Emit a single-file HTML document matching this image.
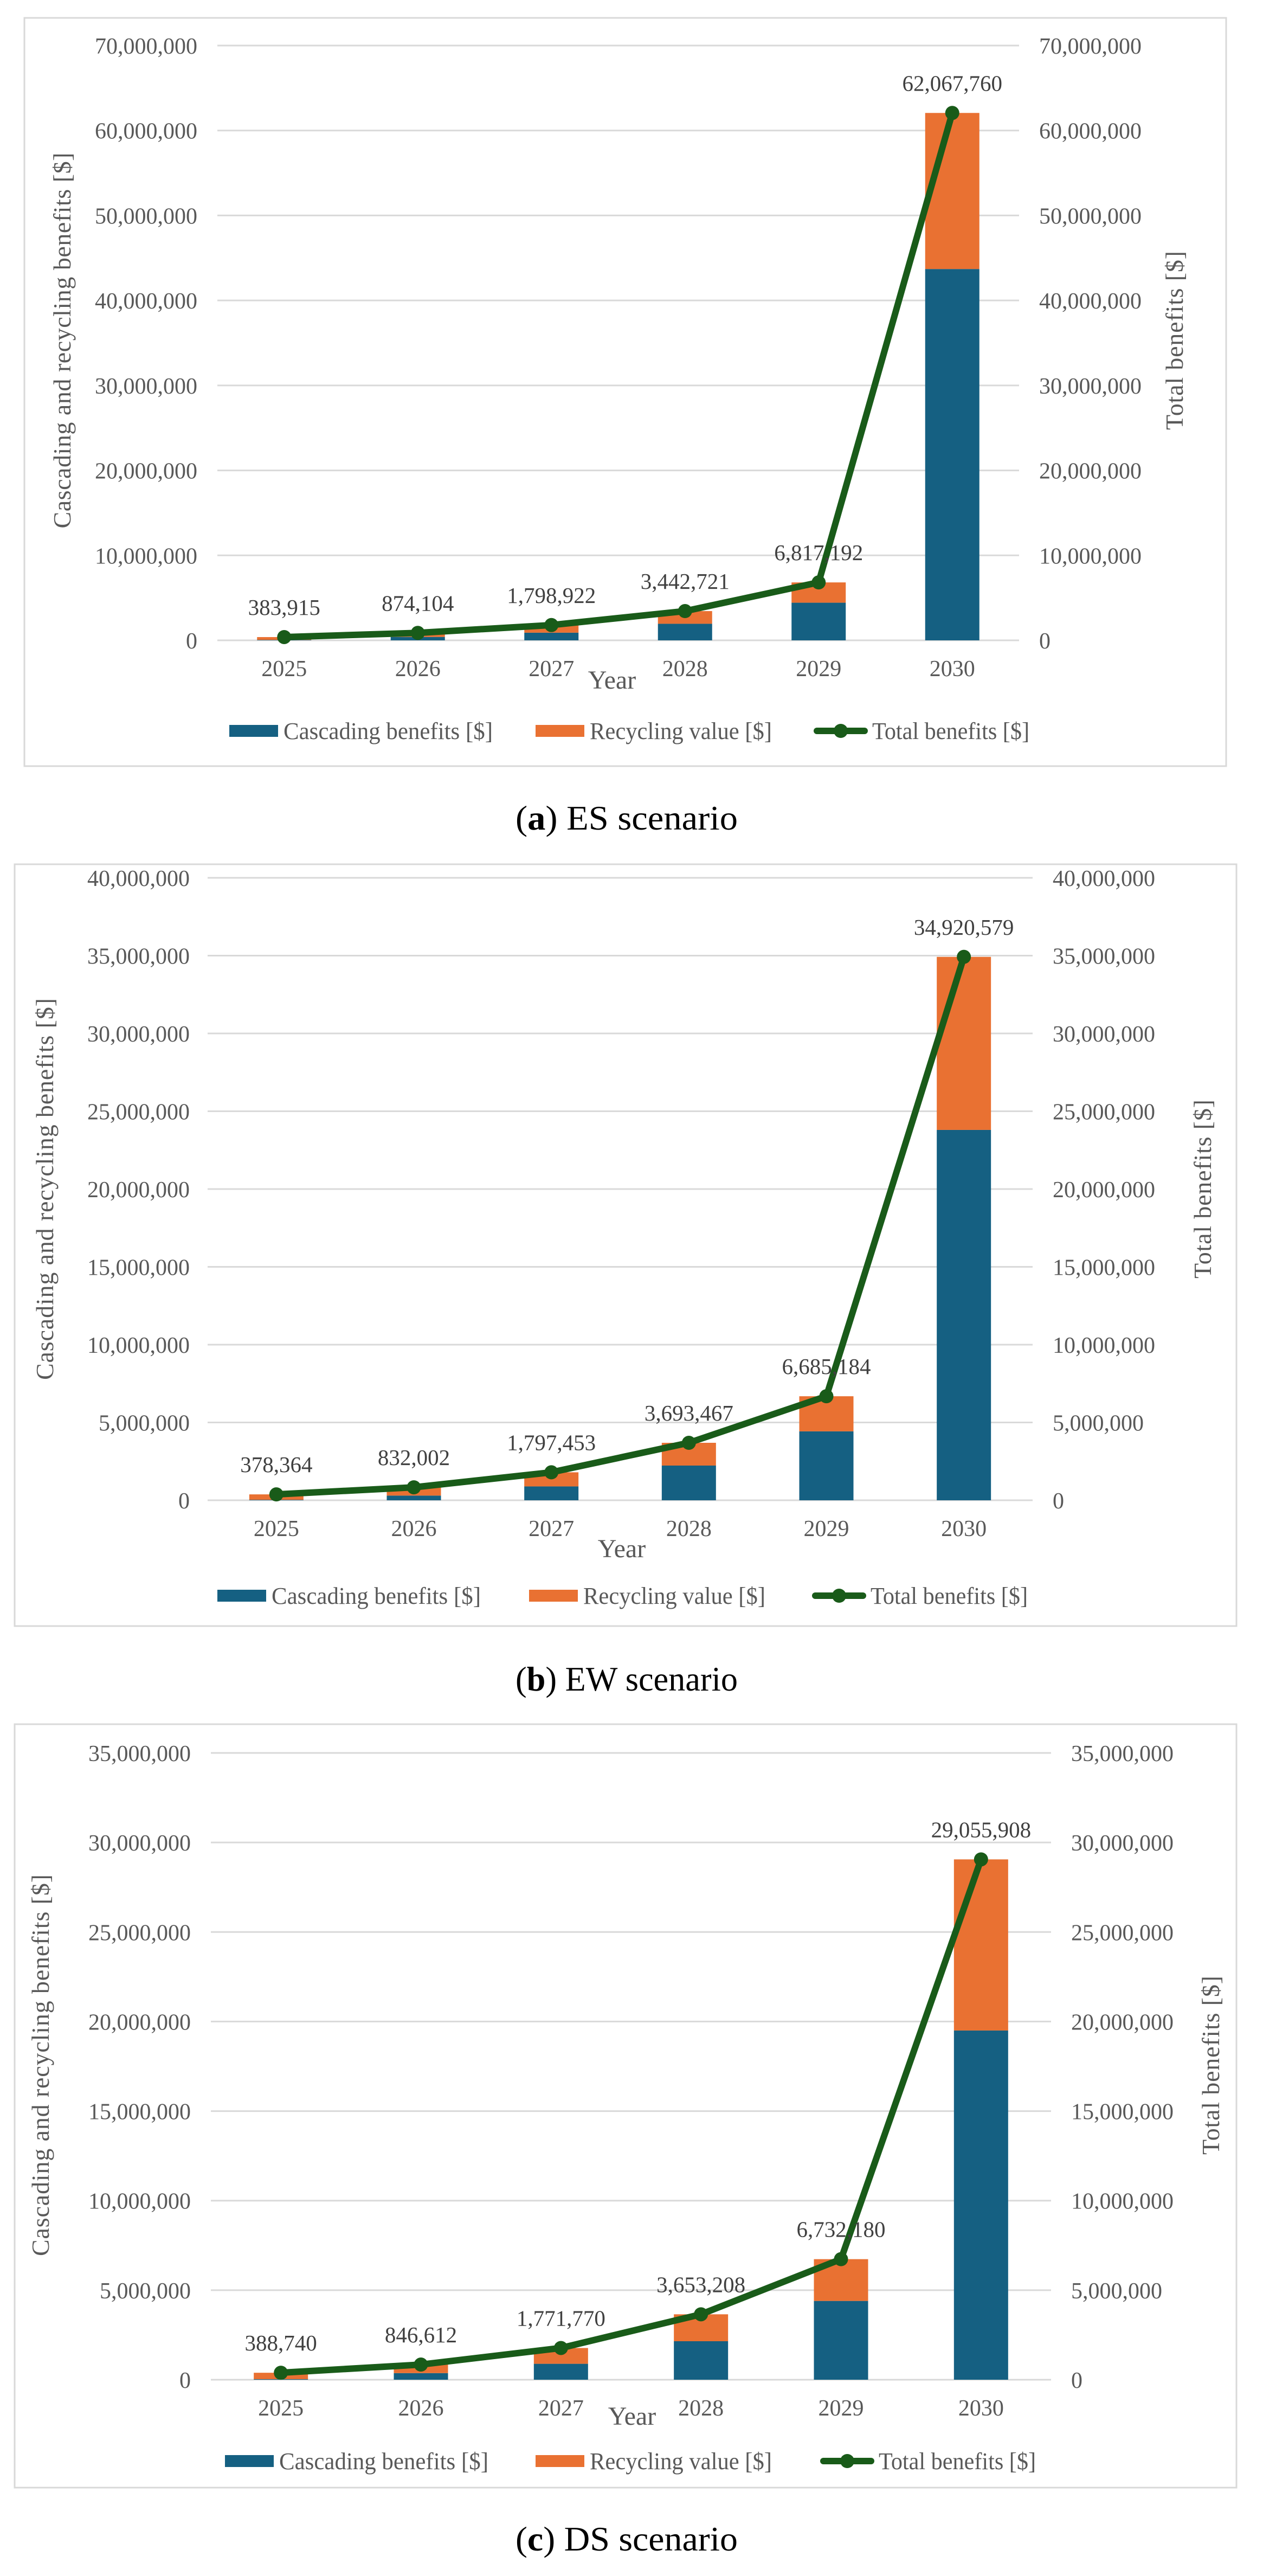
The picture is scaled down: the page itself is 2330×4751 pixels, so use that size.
<!DOCTYPE html>
<html><head><meta charset="utf-8"><style>
html,body{margin:0;padding:0;background:#fff;}
svg{display:block;}
text{font-family:"Liberation Serif",serif;}
</style></head>
<body>
<svg id="root" width="2330" height="4751" viewBox="0 0 2330 4751" xmlns="http://www.w3.org/2000/svg"></svg>
<script>
const years = ["2025","2026","2027","2028","2029","2030"];
const esCascading = [50000, 400000, 900000, 1950000, 4430000, 43700000];
const esTotal = [383915, 874104, 1798922, 3442721, 6817192, 62067760];
const esLabels = ["383,915","874,104","1,798,922","3,442,721","6,817,192","62,067,760"];
const esTicks = [0,10000000,20000000,30000000,40000000,50000000,60000000,70000000];
const ewCascading = [30000, 300000, 890000, 2230000, 4430000, 23800000];
const ewTotal = [378364, 832002, 1797453, 3693467, 6685184, 34920579];
const ewLabels = ["378,364","832,002","1,797,453","3,693,467","6,685,184","34,920,579"];
const ewTicks = [0,5000000,10000000,15000000,20000000,25000000,30000000,35000000,40000000];
const dsCascading = [30000, 370000, 890000, 2150000, 4400000, 19500000];
const dsTotal = [388740, 846612, 1771770, 3653208, 6732180, 29055908];
const dsLabels = ["388,740","846,612","1,771,770","3,653,208","6,732,180","29,055,908"];
const dsTicks = [0,5000000,10000000,15000000,20000000,25000000,30000000,35000000];

const NS="http://www.w3.org/2000/svg";
const root=document.getElementById('root');
function mk(tag,attrs,parent,txt){const e=document.createElementNS(NS,tag);for(const k in attrs)e.setAttribute(k,attrs[k]);if(txt!==undefined)e.textContent=txt;parent.appendChild(e);return e;}
function fmt(v){return v.toLocaleString('en-US');}

function drawChart(cfg,casc,tot,labels,ticks){
  const g=mk('g',{},root);
  
  
  const box=mk('rect',{x:cfg.bx,y:cfg.by,width:cfg.bw,height:cfg.bh,fill:'#fff',stroke:'#d9d9d9','stroke-width':3},g);
  
  
  const max=ticks[ticks.length-1];
  const yS=v=>cfg.y0-(v/max)*(cfg.y0-cfg.yTop);
  const step=(cfg.pr-cfg.pl)/years.length;
  const xS=i=>cfg.pl+step*(i+0.5);
  ticks.forEach(t=>{
    const ln=mk('line',{x1:cfg.pl,x2:cfg.pr,y1:yS(t),y2:yS(t),stroke:'#d9d9d9','stroke-width':3},g);
    
    
    const l=mk('text',{x:cfg.ll,y:yS(t)+15,'text-anchor':'end','font-size':42,fill:'#595959'},g,fmt(t));
    
    
    const r=mk('text',{x:cfg.rl,y:yS(t)+15,'text-anchor':'start','font-size':42,fill:'#595959'},g,fmt(t));
    
    
  });
  const bw=100;
  years.forEach((yr,i)=>{
    const c=Math.min(casc[i],tot[i]);
    const b1=mk('rect',{x:xS(i)-bw/2,y:yS(c),width:bw,height:cfg.y0-yS(c),fill:'#156082'},g);
    
    
    const b2=mk('rect',{x:xS(i)-bw/2,y:yS(tot[i]),width:bw,height:yS(c)-yS(tot[i]),fill:'#e97132'},g);
    
    
    const xl=mk('text',{x:xS(i),y:cfg.y0+66,'text-anchor':'middle','font-size':42,fill:'#595959'},g,yr);
    
    
  });
  const pts=tot.map((v,i)=>xS(i)+','+yS(v)).join(' ');
  const pl=mk('polyline',{points:pts,fill:'none',stroke:'#195b19','stroke-width':12,'stroke-linejoin':'round','stroke-linecap':'round'},g);
  
  
  tot.forEach((v,i)=>{
    const c=mk('circle',{cx:xS(i),cy:yS(v),r:13,fill:'#195b19'},g);
    
    
    const t=mk('text',{x:xS(i),y:yS(v)-41,'text-anchor':'middle','font-size':41,fill:'#404040'},g,labels[i]);
    
    
  });
  const yt=mk('text',{x:cfg.yearX,y:cfg.yearY,'text-anchor':'middle','font-size':48,fill:'#595959'},g,'Year');
  
  
  const lt=mk('text',{x:0,y:0,'text-anchor':'middle','font-size':46,fill:'#595959',textLength:cfg.ltLen,lengthAdjust:'spacing',transform:`translate(${cfg.ltX},${cfg.tY}) rotate(-90)`},g,'Cascading and recycling benefits [$]');
  
  
  const rt=mk('text',{x:0,y:0,'text-anchor':'middle','font-size':46,fill:'#595959',textLength:330,lengthAdjust:'spacing',transform:`translate(${cfg.rtX},${cfg.tY}) rotate(-90)`},g,'Total benefits [$]');
  
  
  const ly=cfg.legY;
  const s1=mk('rect',{x:cfg.lg[0],y:ly-11,width:90,height:22,fill:'#156082'},g);
  
  
  const t1=mk('text',{x:cfg.lg[0]+100,y:ly+15,'font-size':44,fill:'#595959',textLength:386,lengthAdjust:'spacingAndGlyphs'},g,'Cascading benefits [$]');
  
  
  const s2=mk('rect',{x:cfg.lg[1],y:ly-11,width:90,height:22,fill:'#e97132'},g);
  
  
  const t2=mk('text',{x:cfg.lg[1]+100,y:ly+15,'font-size':44,fill:'#595959',textLength:336,lengthAdjust:'spacingAndGlyphs'},g,'Recycling value [$]');
  
  
  const s3=mk('line',{x1:cfg.lg[2]+6,x2:cfg.lg[2]+94,y1:ly,y2:ly,stroke:'#195b19','stroke-width':12,'stroke-linecap':'round'},g);
  
  
  const s3c=mk('circle',{cx:cfg.lg[2]+50,cy:ly,r:13,fill:'#195b19'},g);
  
  
  const t3=mk('text',{x:cfg.lg[2]+108,y:ly+15,'font-size':44,fill:'#595959',textLength:290,lengthAdjust:'spacingAndGlyphs'},g,'Total benefits [$]');
  
  
  const cap=mk('text',{x:1156,y:cfg.capY+22,'text-anchor':'middle','font-size':64,fill:'#000',textLength:410,lengthAdjust:'spacingAndGlyphs'},g);
  
  
  mk('tspan',{},cap,'(');
  mk('tspan',{'font-weight':'bold'},cap,cfg.letter);
  mk('tspan',{},cap,') '+cfg.scen);
}

drawChart({name:'chart-es',bx:45,by:33,bw:2217,bh:1380,pl:401,pr:1880,yTop:84,y0:1181,ll:364,rl:1917,
  yearX:1129,yearY:1270,ltX:130,rtX:2182,tY:628,ltLen:693,legY:1348,lg:[423,988,1501],capY:1508,letter:'a',scen:'ES scenario'},
  esCascading,esTotal,esLabels,esTicks);
drawChart({name:'chart-ew',bx:27,by:1594,bw:2254,bh:1405,pl:383,pr:1905,yTop:1619,y0:2767,ll:350,rl:1942,
  yearX:1147,yearY:2872,ltX:98,rtX:2234,tY:2193,ltLen:704,legY:2943,lg:[401,976,1498],capY:3096,letter:'b',scen:'EW scenario'},
  ewCascading,ewTotal,ewLabels,ewTicks);
drawChart({name:'chart-ds',bx:27,by:3180,bw:2254,bh:1408,pl:389,pr:1939,yTop:3233,y0:4389,ll:352,rl:1976,
  yearX:1166,yearY:4472,ltX:90,rtX:2249,tY:3809,ltLen:704,legY:4539,lg:[415,988,1513],capY:4682,letter:'c',scen:'DS scenario'},
  dsCascading,dsTotal,dsLabels,dsTicks);
</script>
</body></html>
